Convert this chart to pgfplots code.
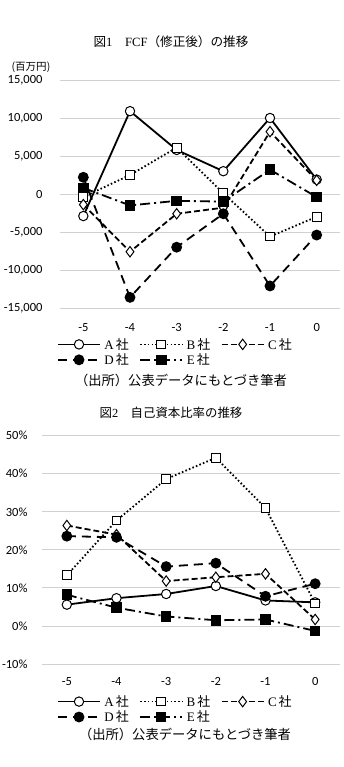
\documentclass[border=0pt]{standalone}
\usepackage{pgfplots}
\pgfplotsset{compat=1.18}
\usepackage{fontspec}
\setmainfont{Carlito}
\newfontfamily\jp{Noto Sans CJK JP}
\newfontfamily\ser{Liberation Serif}
\newcommand{\sha}[1]{{\ser #1}\hspace{2pt}{\jp 社}}

\pgfplotsset{
  base/.style={
    scale only axis, axis line style={draw=none}, major tick length=0pt,
    ymajorgrids, grid style={draw=black!18, line width=0.9pt},
    xmin=-5.5, xmax=0.5, xtick={-5,-4,-3,-2,-1,0},
    tick label style={font=\fontsize{12.5}{14}\selectfont},
    /pgf/number format/assume math mode=true,
    scaled y ticks=false,
    clip=false, legend columns=3,
    legend image code/.code={\draw[mark repeat=2,mark phase=2,##1] plot coordinates {(0pt,0pt) (21pt,0pt) (42pt,0pt)};},
    legend style={draw=none, fill=none, inner sep=0pt,
      font=\fontsize{13}{17}\selectfont,
      nodes={inner sep=1.5pt},
      /tikz/every odd column/.append style={column sep=2pt},
      /tikz/every even column/.append style={column sep=9pt}},
  },
  sA/.style={black, line width=1.8pt, solid, mark=*, mark size=4.7pt, mark options={fill=white, line width=1pt, solid}},
  sB/.style={black, line width=1.8pt, dash pattern=on 1.6pt off 2.2pt, mark=square*, mark size=4.4pt, mark options={fill=white, line width=1pt, solid}},
  sC/.style={black, line width=1.8pt, dash pattern=on 6pt off 3pt, mark=diamond*, mark size=5.2pt, mark options={fill=white, line width=1pt, solid}},
  sD/.style={black, line width=1.8pt, dash pattern=on 9pt off 6pt, mark=*, mark size=4.5pt, mark options={fill=black, solid}},
  sE/.style={black, line width=1.8pt, dash pattern=on 10pt off 4pt on 2pt off 4pt, mark=square*, mark size=4.4pt, mark options={fill=black, solid}},
}

\begin{document}
\begin{tikzpicture}
\useasboundingbox (0,0) rectangle (343pt,-767pt);

\node[font=\fontsize{12.6}{14}\selectfont] at (171pt,-42pt) {{\jp 図}{\ser 1}\hspace{1em}{\ser FCF}{\jp （修正後）の推移}};
\node[font=\fontsize{10.5}{12}\selectfont] at (31pt,-67pt) {{\jp (百万円)}};

\begin{axis}[base, at={(60pt,-308pt)}, anchor=south west, width=280pt, height=228pt,
  ymin=-15000, ymax=15000, ytick={-15000,-10000,-5000,0,5000,10000,15000},
  /pgf/number format/1000 sep={,},
  yticklabel style={xshift=-14pt}, xticklabel style={yshift=-12pt},
  legend style={at={(axis description cs:-0.011,-0.125)}, anchor=north west}]
\addplot[sA] coordinates {(-5,-2900) (-4,10900) (-3,5800) (-2,3000) (-1,10000) (0,1900)};
\addplot[sB] coordinates {(-5,-400) (-4,2500) (-3,6100) (-2,100) (-1,-5600) (0,-3000)};
\addplot[sC] coordinates {(-5,-1400) (-4,-7600) (-3,-2600) (-2,-1800) (-1,8200) (0,1800)};
\addplot[sD] coordinates {(-5,2200) (-4,-13600) (-3,-7000) (-2,-2600) (-1,-12100) (0,-5400)};
\addplot[sE] coordinates {(-5,800) (-4,-1500) (-3,-900) (-2,-1000) (-1,3200) (0,-400)};
\legend{\sha{A},\sha{B},\sha{C},\sha{D},\sha{E}}
\end{axis}

\node[font=\fontsize{13.3}{15}\selectfont] at (181pt,-380pt) {{\jp （出所）公表データにもとづき筆者}};

\node[font=\fontsize{12.4}{14}\selectfont] at (171pt,-413pt) {{\jp 図}{\ser 2}\hspace{1em}{\jp 自己資本比率の推移}};

\begin{axis}[base, at={(42pt,-664pt)}, anchor=south west, width=298pt, height=228.3pt,
  ymin=-10, ymax=50, ytick={-10,0,10,20,30,40,50},
  yticklabel={\pgfmathprintnumber{\tick}\%},
  yticklabel style={xshift=-11pt}, xticklabel style={yshift=-10pt},
  legend style={at={(axis description cs:0.05,-0.13)}, anchor=north west}]
\addplot[sA] coordinates {(-5,5.6) (-4,7.3) (-3,8.4) (-2,10.5) (-1,6.7) (0,6.2)};
\addplot[sB] coordinates {(-5,13.3) (-4,27.7) (-3,38.6) (-2,44.2) (-1,31.0) (0,5.9)};
\addplot[sC] coordinates {(-5,26.4) (-4,24.0) (-3,11.8) (-2,12.8) (-1,13.7) (0,1.7)};
\addplot[sD] coordinates {(-5,23.6) (-4,23.3) (-3,15.6) (-2,16.5) (-1,7.8) (0,11.1)};
\addplot[sE] coordinates {(-5,8.2) (-4,4.8) (-3,2.5) (-2,1.5) (-1,1.7) (0,-1.3)};
\legend{\sha{A},\sha{B},\sha{C},\sha{D},\sha{E}}
\end{axis}

\node[font=\fontsize{13.3}{15}\selectfont] at (185pt,-734pt) {{\jp （出所）公表データにもとづき筆者}};
\end{tikzpicture}
\end{document}
